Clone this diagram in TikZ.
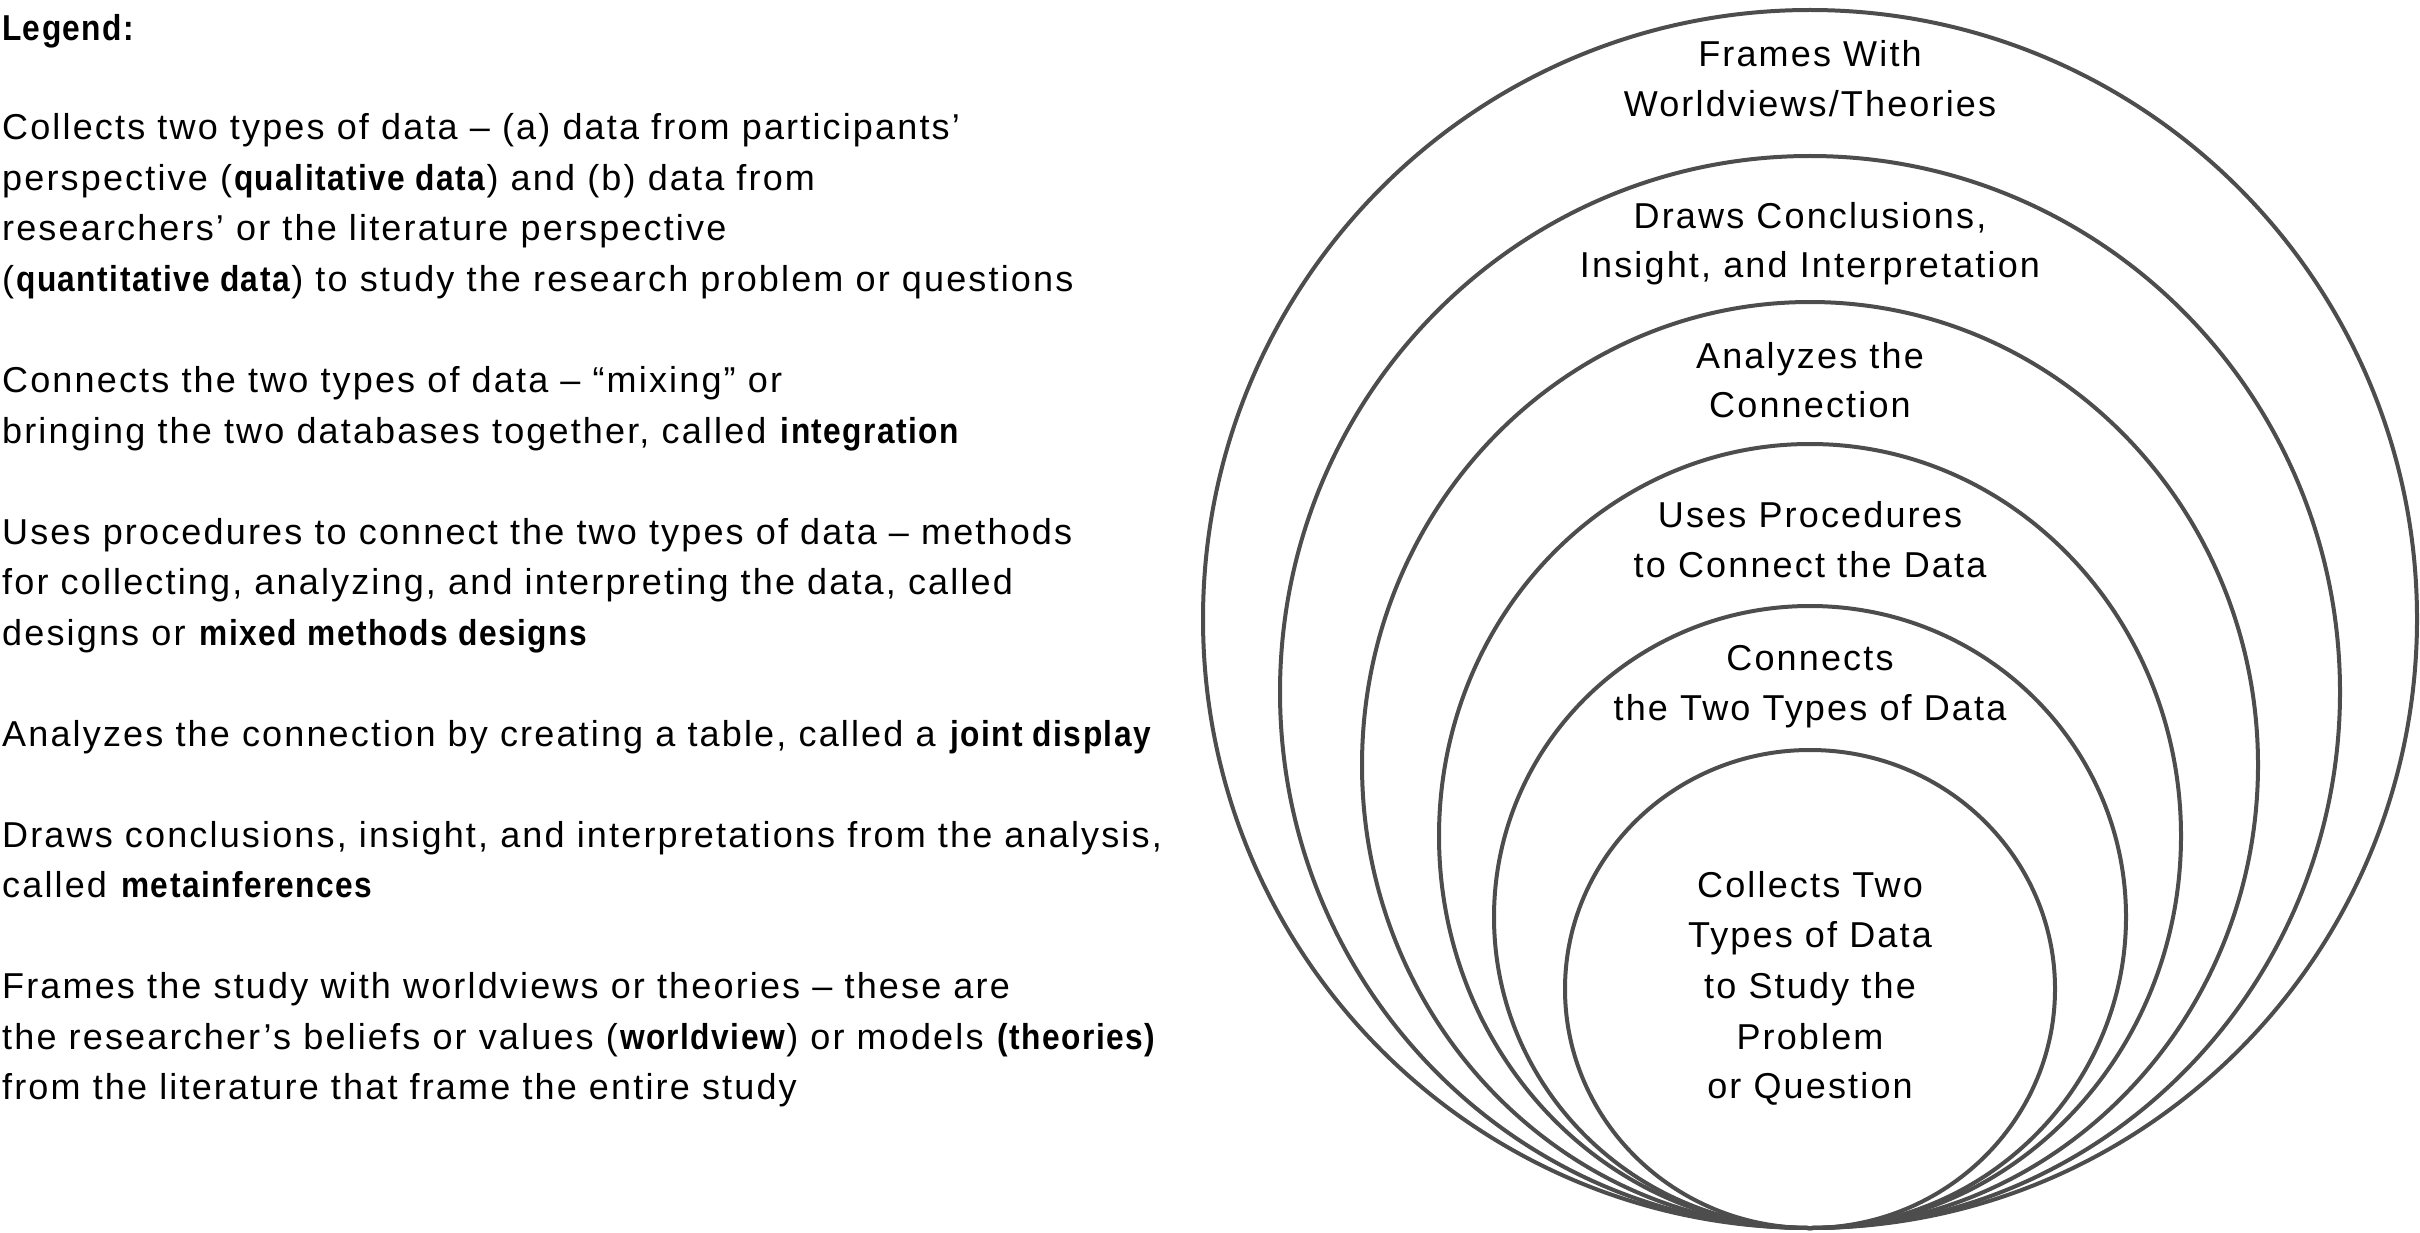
\documentclass[tikz,border=0pt]{standalone}
\usepackage{fontspec}
\setmainfont{Liberation Sans}[LetterSpace=6, BoldFeatures={FakeStretch=0.88, LetterSpace=4}]
\definecolor{ringgray}{HTML}{4D4D4D}
\begin{document}
\begin{tikzpicture}[x=1pt,y=-1pt,
  legend/.style={anchor=base west, inner sep=0pt, font=\fontsize{36}{50}\selectfont},
  clabel/.style={anchor=base, inner sep=0pt, font=\fontsize{36}{50}\selectfont},
  ring/.style={draw=ringgray, line width=4pt}]
\useasboundingbox (0,0) rectangle (2420,1233);

% rings, all touching at the bottom
\coordinate (c1) at (1810,619);
\coordinate (c2) at (1810,692);
\coordinate (c3) at (1810,765);
\coordinate (c4) at (1810,836);
\coordinate (c5) at (1810,917);
\coordinate (c6) at (1810,989);
\draw[ring] (c1) ellipse [x radius=607pt, y radius=609pt];
\draw[ring] (c2) ellipse [x radius=530pt, y radius=536pt];
\draw[ring] (c3) ellipse [x radius=448pt, y radius=463pt];
\draw[ring] (c4) ellipse [x radius=371pt, y radius=392pt];
\draw[ring] (c5) ellipse [x radius=316pt, y radius=311pt];
\draw[ring] (c6) ellipse [x radius=245pt, y radius=239pt];

% ring labels
\node[clabel] (f1) at (1810,67) {Frames With};
\node[clabel] (f2) at (1810,117) {Worldviews/Theories};
\node[clabel] (d1) at (1810,229) {Draws Conclusions,};
\node[clabel] (d2) at (1810,278) {Insight, and Interpretation};
\node[clabel] (a1) at (1810,368) {Analyzes the};
\node[clabel] (a2) at (1810,417) {Connection};
\node[clabel] (u1) at (1810,527) {Uses Procedures};
\node[clabel] (u2) at (1810,577) {to Connect the Data};
\node[clabel] (k1) at (1810,670) {Connects};
\node[clabel] (k2) at (1810,720) {the Two Types of Data};
\node[clabel] (q1) at (1810,897) {Collects Two};
\node[clabel] (q2) at (1810,947) {Types of Data};
\node[clabel] (q3) at (1810,998) {to Study the};
\node[clabel] (q4) at (1810,1049) {Problem};
\node[clabel] (q5) at (1810,1098) {or Question};

% legend
\node[legend] (l0) at (2,41) {\textbf{Legend:}};
\node[legend] (l1) at (2,140) {Collects two types of data – (a) data from participants’};
\node[legend] (l2) at (2,190.5) {perspective (\textbf{qualitative data}) and (b) data from};
\node[legend] (l3) at (2,241) {researchers’ or the literature perspective};
\node[legend] (l4) at (2,291.5) {(\textbf{quantitative data}) to study the research problem or questions};
\node[legend] (l5) at (2,392.5) {Connects the two types of data – “mixing” or};
\node[legend] (l6) at (2,443) {bringing the two databases together, called \textbf{integration}};
\node[legend] (l7) at (2,544) {Uses procedures to connect the two types of data – methods};
\node[legend] (l8) at (2,594.5) {for collecting, analyzing, and interpreting the data, called};
\node[legend] (l9) at (2,645) {designs or \textbf{mixed methods designs}};
\node[legend] (l10) at (2,746) {Analyzes the connection by creating a table, called a \textbf{joint display}};
\node[legend] (l11) at (2,847) {Draws conclusions, insight, and interpretations from the analysis,};
\node[legend] (l12) at (2,897.5) {called \textbf{metainferences}};
\node[legend] (l13) at (2,998.5) {Frames the study with worldviews or theories – these are};
\node[legend] (l14) at (2,1049) {the researcher’s beliefs or values (\textbf{worldview}) or models \textbf{(theories)}};
\node[legend] (l15) at (2,1099.5) {from the literature that frame the entire study};
\end{tikzpicture}
\end{document}
